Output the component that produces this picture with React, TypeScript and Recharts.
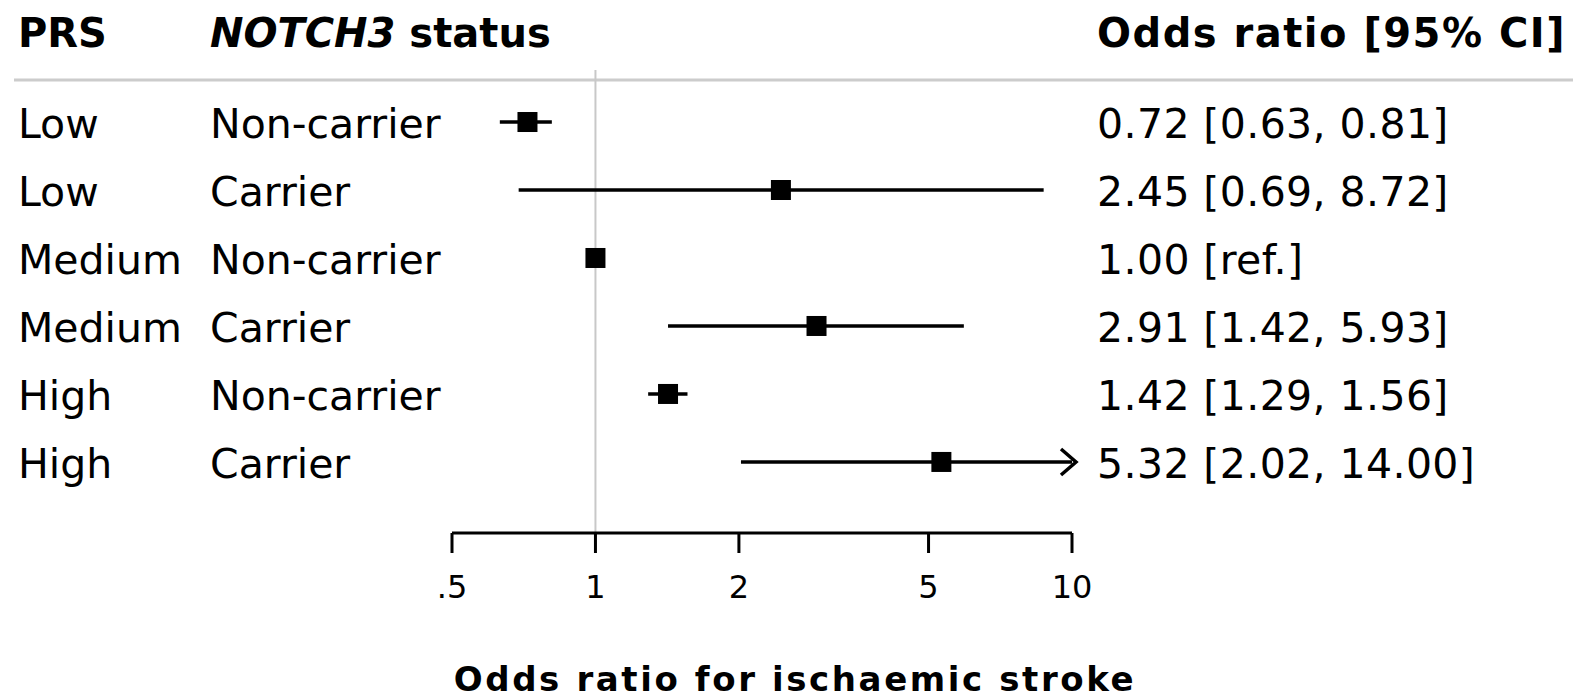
import React from "react";
import {
  ComposedChart,
  Scatter,
  XAxis,
  YAxis,
  ReferenceLine,
} from "recharts";

const prsGroups = ["Low", "Low", "Medium", "Medium", "High", "High"];
const notchStatus = ["Non-carrier", "Carrier", "Non-carrier", "Carrier", "Non-carrier", "Carrier"];
const oddsRatios = [0.72, 2.45, 1.0, 2.91, 1.42, 5.32];
const ciLower = [0.63, 0.69, 1.0, 1.42, 1.29, 2.02];
const ciUpper = [0.81, 8.72, 1.0, 5.93, 1.56, 14.0];
const orLabels = [
  "0.72 [0.63, 0.81]",
  "2.45 [0.69, 8.72]",
  "1.00 [ref.]",
  "2.91 [1.42, 5.93]",
  "1.42 [1.29, 1.56]",
  "5.32 [2.02, 14.00]",
];
const xTicks = [0.5, 1, 2, 5, 10];
const X_MIN = 0.5;
const X_MAX = 10;

const FONT = "'DejaVu Sans', Verdana, sans-serif";

const rows = oddsRatios.map((or, i) => ({
  row: i,
  or,
  lo: Math.max(ciLower[i], X_MIN),
  hi: Math.min(ciUpper[i], X_MAX),
  clipped: ciUpper[i] > X_MAX,
}));

const arrows = rows.filter((r) => r.clipped).map((r) => ({ row: r.row, x: X_MAX }));

const Square = (props: any) => {
  const { cx, cy } = props;
  return <rect x={cx - 10} y={cy - 10} width={20} height={20} fill="#000" />;
};

const ArrowHead = (props: any) => {
  const { cx, cy } = props;
  return (
    <polyline
      points={`${cx - 11},${cy - 13} ${cx + 4},${cy} ${cx - 11},${cy + 13}`}
      fill="none"
      stroke="#000"
      strokeWidth={3.5}
    />
  );
};

// row labels on both sides, positioned by the y scale
const RowTick = (props: any) => {
  const { y, payload } = props;
  const i = payload.value;
  const ty = y + 16;
  return (
    <g>
      <text x={18} y={ty} fontSize={41} fontFamily={FONT} fill="#000">
        {prsGroups[i]}
      </text>
      <text x={210} y={ty} fontSize={41} fontFamily={FONT} fill="#000">
        {notchStatus[i]}
      </text>
      <text x={1097} y={ty} fontSize={41} fontFamily={FONT} fill="#000" letterSpacing={0.4}>
        {orLabels[i]}
      </text>
    </g>
  );
};

export default function App() {
  return (
    <div style={{ position: "absolute", left: 0, top: 0, background: "#fff" }}>
      <ComposedChart
        width={1573}
        height={699}
        margin={{ top: 70, right: 501, bottom: 0, left: 0 }}
      >
        <XAxis
          type="number"
          dataKey="x"
          scale="log"
          domain={[X_MIN, X_MAX]}
          ticks={xTicks}
          height={166}
          tickSize={20}
          tickMargin={22}
          tickFormatter={(v: number) => (v === 0.5 ? ".5" : String(v))}
          axisLine={{ stroke: "#000", strokeWidth: 3 }}
          tickLine={{ stroke: "#000", strokeWidth: 3 }}
          tick={{ fontSize: 32, fontFamily: FONT, fill: "#000" }}
        />
        <YAxis
          yAxisId="left"
          type="number"
          dataKey="row"
          domain={[-0.765, 6.045]}
          reversed
          ticks={[0, 1, 2, 3, 4, 5]}
          width={452}
          axisLine={false}
          tickLine={false}
          tick={<RowTick />}
        />
        <ReferenceLine yAxisId="left" x={1} stroke="#c8c8c8" strokeWidth={2} />
        {rows.map((r) => (
          <ReferenceLine
            key={r.row}
            yAxisId="left"
            ifOverflow="visible"
            segment={[
              { x: r.lo, y: r.row },
              { x: r.hi, y: r.row },
            ]}
            stroke="#000"
            strokeWidth={3.5}
          />
        ))}
        <Scatter
          yAxisId="left"
          data={rows.map((r) => ({ x: r.or, row: r.row }))}
          dataKey="row"
          shape={<Square />}
          isAnimationActive={false}
        />
        <Scatter
          yAxisId="left"
          data={arrows}
          dataKey="row"
          shape={<ArrowHead />}
          isAnimationActive={false}
        />
        <line x1={14} y1={80} x2={1573} y2={80} stroke="#cccccc" strokeWidth={3} />
        <text x={18} y={47} fontSize={40} fontWeight="bold" fontFamily={FONT} fill="#000">
          PRS
        </text>
        <text x={210} y={47} fontSize={40} fontWeight="bold" fontFamily={FONT} fill="#000">
          <tspan fontStyle="italic">NOTCH3</tspan> status
        </text>
        <text
          x={1097}
          y={47}
          fontSize={40}
          fontWeight="bold"
          fontFamily={FONT}
          fill="#000"
          letterSpacing={1.5}
        >
          Odds ratio [95% CI]
        </text>
        <text
          x={795}
          y={691}
          textAnchor="middle"
          fontSize={34}
          fontWeight="bold"
          fontFamily={FONT}
          fill="#000"
          letterSpacing={2.6}
        >
          Odds ratio for ischaemic stroke
        </text>
      </ComposedChart>
    </div>
  );
}
